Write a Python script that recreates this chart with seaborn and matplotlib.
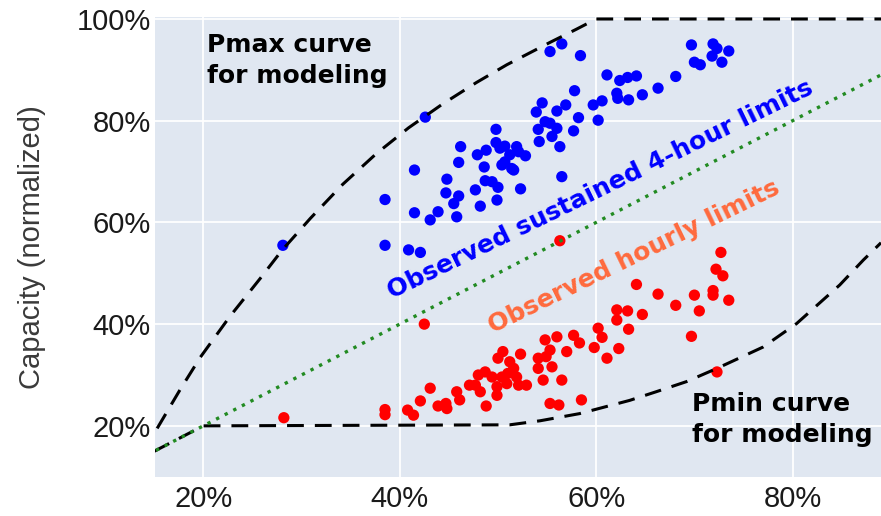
import matplotlib
matplotlib.use("Agg")
import matplotlib.pyplot as plt
import seaborn as sns
import pandas as pd
from matplotlib.ticker import FuncFormatter

# Observed sustained 4-hour limits (x and y in percent)
sustained_x = [28.1, 38.5, 38.5, 40.9, 42.1, 41.5, 41.5, 42.6, 43.1, 43.9,
               44.8, 44.7, 45.5, 45.8, 46.0, 46.0, 46.2, 47.7, 47.9, 48.2,
               48.6, 48.7, 48.8, 49.4, 49.8, 49.8, 49.9, 50.0, 50.2, 50.4,
               50.7, 50.7, 51.2, 51.4, 51.6, 51.9, 52.1, 52.3, 52.8, 53.9,
               54.1, 54.2, 54.5, 54.8, 55.3, 55.3, 55.5, 56.0, 56.0, 56.3,
               56.5, 56.5, 56.9, 57.7, 57.8, 58.2, 58.4, 59.7, 60.2, 60.6,
               61.1, 62.1, 62.2, 62.4, 63.2, 63.3, 64.1, 64.7, 66.3, 68.1,
               69.7, 70.0, 70.6, 71.8, 71.9, 72.3, 72.8, 73.5]
sustained_y = [55.5, 64.5, 55.5, 54.6, 54.1, 70.3, 61.9, 80.7, 60.5, 62.1,
               68.5, 65.8, 63.7, 61.1, 65.2, 71.8, 74.9, 66.4, 73.3, 63.2,
               70.9, 68.2, 74.2, 68.0, 78.3, 75.7, 64.4, 66.9, 74.6, 71.3,
               75.0, 71.9, 73.3, 70.6, 70.3, 74.9, 73.9, 66.6, 73.1, 81.7,
               78.3, 75.9, 83.5, 79.8, 79.5, 93.6, 76.9, 78.5, 81.9, 74.9,
               95.1, 69.0, 83.1, 78.0, 85.9, 80.6, 92.8, 83.1, 80.1, 83.9,
               89.0, 85.4, 84.4, 87.9, 88.5, 84.1, 88.8, 85.1, 86.4, 88.7,
               94.9, 91.5, 91.0, 92.7, 95.1, 94.2, 91.5, 93.7]

# Observed hourly limits (x and y in percent)
hourly_x = [28.2, 38.5, 38.5, 40.8, 41.4, 42.1, 42.5, 43.1, 43.9, 44.7,
            44.8, 45.8, 46.1, 47.1, 47.7, 48.0, 48.2, 48.7, 48.8, 49.4,
            49.9, 49.9, 50.0, 50.4, 50.5, 50.9, 51.0, 51.2, 51.6, 51.9,
            52.1, 52.3, 52.9, 54.1, 54.1, 54.6, 54.8, 54.9, 55.3, 55.3,
            55.5, 56.0, 56.2, 56.3, 56.5, 57.0, 57.7, 58.3, 58.5, 59.8,
            60.2, 60.6, 61.1, 62.1, 62.1, 62.3, 63.2, 63.3, 64.1, 64.7,
            66.3, 68.1, 69.7, 70.0, 70.5, 71.9, 71.9, 72.2, 72.3, 72.7,
            72.9, 73.5]
hourly_y = [21.6, 23.2, 22.2, 23.1, 22.1, 24.9, 40.0, 27.4, 23.9, 24.4,
            23.4, 26.7, 25.1, 28.0, 28.0, 30.0, 26.7, 30.6, 23.9, 29.6,
            27.7, 26.0, 33.3, 29.6, 34.6, 28.3, 30.3, 32.6, 31.3, 29.6,
            28.0, 34.1, 28.0, 31.3, 33.3, 29.0, 36.9, 33.6, 34.9, 24.4,
            31.6, 37.5, 24.1, 56.4, 29.0, 34.6, 37.8, 36.3, 25.1, 35.4,
            39.2, 37.4, 33.3, 42.8, 40.8, 35.2, 42.6, 39.0, 47.8, 41.9,
            45.9, 43.7, 37.6, 45.7, 42.6, 46.6, 45.7, 50.8, 30.6, 54.1,
            49.5, 44.7]

# Modeling envelopes
pmax_x = [15.3, 17.6, 19.7, 22.7, 25.8, 28.0, 30.9, 34.2, 37.6, 40.9,
          44.3, 47.8, 50.9, 55.3, 58.0, 60.0, 89.0]
pmax_y = [19.5, 27.0, 33.5, 41.5, 49.0, 54.5, 60.8, 67.5, 73.5, 78.6,
          83.2, 87.5, 91.0, 95.4, 98.0, 100.0, 100.0]
pmin_x = [15.0, 20.0, 51.2, 54.3, 58.3, 63.4, 66.1, 69.2, 72.3, 77.0,
          80.4, 84.8, 87.2, 89.0]
pmin_y = [15.0, 20.0, 20.2, 21.0, 22.4, 25.0, 26.7, 28.7, 31.3, 35.5,
          40.1, 47.7, 52.6, 56.0]
diag_x = [0, 100]
diag_y = [0, 100]

x_ticks = [20, 40, 60, 80]
y_ticks = [20, 40, 60, 80, 100]

sustained = pd.DataFrame({"x": sustained_x, "y": sustained_y})
hourly = pd.DataFrame({"x": hourly_x, "y": hourly_y})
pmax = pd.DataFrame({"x": pmax_x, "y": pmax_y})
pmin = pd.DataFrame({"x": pmin_x, "y": pmin_y})
diag = pd.DataFrame({"x": diag_x, "y": diag_y})

sns.set_theme(style="darkgrid")
plt.rcParams["font.family"] = ["Liberation Sans", "DejaVu Sans"]

fig = plt.figure(figsize=(8.81, 5.16), dpi=100)
ax = fig.add_axes([155 / 881, 39.3 / 516, 726 / 881, 460 / 516])
ax.set_facecolor("#e0e7f1")
ax.grid(True, color="white", linewidth=1.3)
for s in ax.spines.values():
    s.set_visible(False)

sns.scatterplot(data=sustained, x="x", y="y", ax=ax, color="#0000ff",
                s=66, edgecolor="none", zorder=2)
sns.scatterplot(data=hourly, x="x", y="y", ax=ax, color="#ff0000",
                s=66, edgecolor="none", zorder=2)

dash = (0, (5.5, 3.6))
sns.lineplot(data=pmax, x="x", y="y", ax=ax, sort=False, estimator=None,
             color="black", linewidth=2.2, linestyle=dash, zorder=3)
sns.lineplot(data=pmin, x="x", y="y", ax=ax, sort=False, estimator=None,
             color="black", linewidth=2.2, linestyle=dash, zorder=3)
sns.lineplot(data=diag, x="x", y="y", ax=ax, sort=False, estimator=None,
             color="#228b22", linewidth=2.4, linestyle=(0, (1, 1.9)), zorder=4)

ax.set_xlim(15.08, 89.0)
ax.set_ylim(10.0, 100.45)
ax.set_xticks(x_ticks)
ax.set_yticks(y_ticks)
pct = FuncFormatter(lambda v, _: f"{v:.0f}%")
ax.xaxis.set_major_formatter(pct)
ax.yaxis.set_major_formatter(pct)
ax.tick_params(axis="both", length=0, labelsize=21, labelcolor="#1a1a1a")
ax.tick_params(axis="x", pad=6)
ax.tick_params(axis="y", pad=3)
ax.set_xlabel("")
ax.set_ylabel("Capacity (normalized)", fontsize=21, color="#3a3a3a")
ax.yaxis.set_label_coords(-0.15, 0.5)

bold = dict(fontsize=18, fontweight="bold", family=["DejaVu Sans"])
ax.text(20.4, 97.2, "Pmax curve\nfor modeling", ha="left", va="top",
        color="black", linespacing=1.35, zorder=5, **bold)
ax.text(69.8, 26.6, "Pmin curve\nfor modeling", ha="left", va="top",
        color="black", linespacing=1.35, zorder=5, **bold)
ax.text(60.4, 66.4, "Observed sustained 4-hour limits", rotation=26,
        rotation_mode="anchor", ha="center", va="center", color="#0000ff",
        zorder=5, **bold)
ax.text(63.9, 53.2, "Observed hourly limits", rotation=26,
        rotation_mode="anchor", ha="center", va="center", color="#ff6a3d",
        zorder=5, **bold)

fig.savefig("out.png", dpi=100)
